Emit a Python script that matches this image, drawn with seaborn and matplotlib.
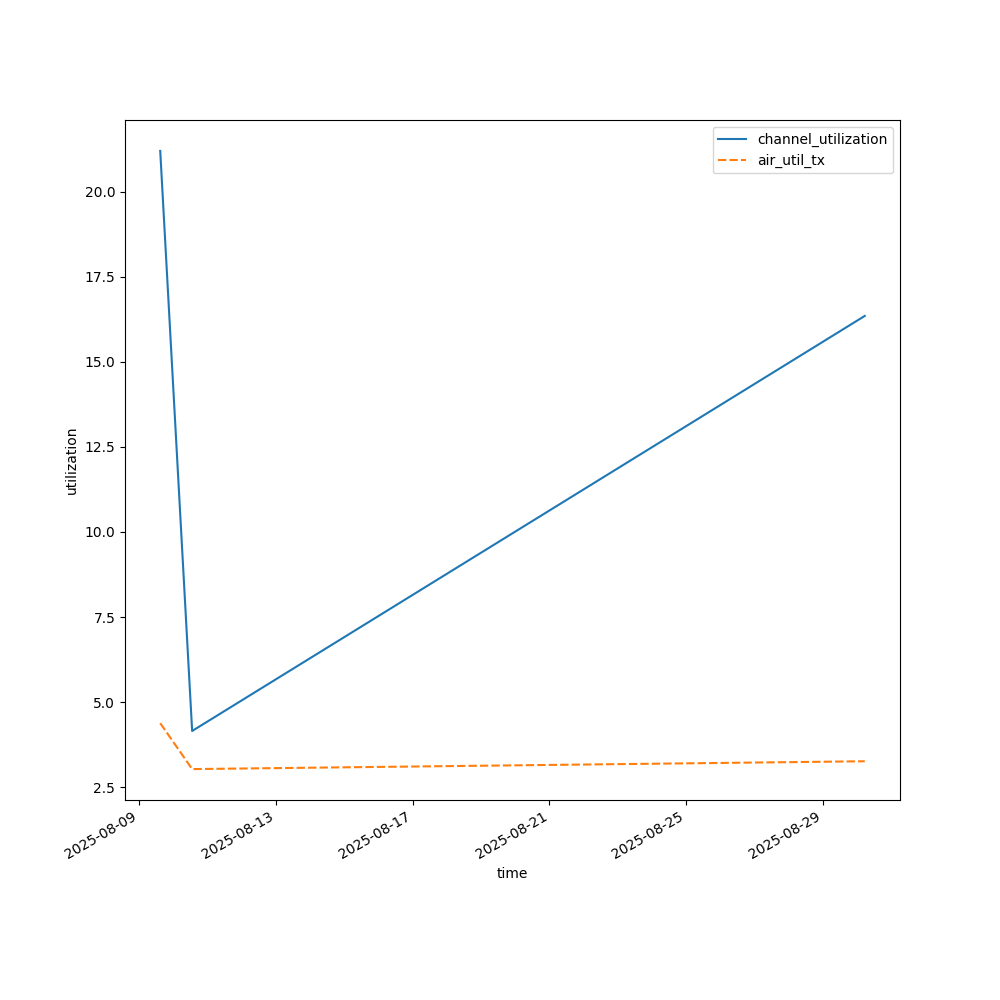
import pandas as pd
import seaborn as sns
import matplotlib
matplotlib.use("Agg")
import matplotlib.pyplot as plt

# readings taken off the chart
times = ["2025-08-09 14:45", "2025-08-10 13:10", "2025-08-30 05:30"]
channel_utilization = [21.2, 4.15, 16.35]
air_util_tx = [4.38, 3.03, 3.26]

# wide-form frame, time as index
df = pd.DataFrame(
    {"channel_utilization": channel_utilization, "air_util_tx": air_util_tx},
    index=pd.to_datetime(times),
)
df.index.name = "time"

fig, ax = plt.subplots(figsize=(10, 10), dpi=100)
sns.lineplot(data=df, ax=ax)
ax.set_xlabel("time")
ax.set_ylabel("utilization")
fig.autofmt_xdate()

fig.savefig("out.png")
